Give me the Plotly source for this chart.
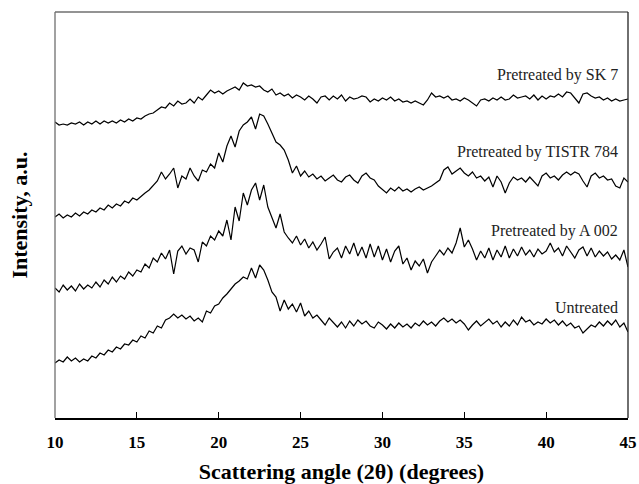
import plotly.graph_objects as go

# X-ray diffraction patterns, 2-theta from 10 to 45 degrees in 0.25 degree steps
angle_start = 10.0
angle_step = 0.25

series_names = ["Pretreated by SK 7", "Pretreated by TISTR 784", "Pretreated by A 002", "Untreated"]

sk7 = [
    296, 293, 294, 293, 295, 294, 296, 293, 296, 294,
    297, 294, 297, 295, 297, 295, 298, 296, 299, 297,
    300, 299, 302, 304, 305, 308, 311, 310, 315, 312,
    317, 314, 315, 319, 315, 321, 318, 323, 328, 325,
    327, 324, 327, 329, 331, 328, 335, 332, 333, 331,
    332, 328, 326, 329, 323, 325, 322, 324, 320, 323,
    321, 318, 322, 319, 315, 321, 322, 318, 322, 319,
    323, 317, 321, 319, 320, 322, 321, 316, 319, 317,
    320, 318, 321, 317, 319, 316, 317, 315, 317, 315,
    313, 318, 325, 321, 322, 320, 322, 318, 319, 317,
    320, 318, 315, 312, 318, 319, 317, 320, 318, 321,
    318, 319, 323, 320, 321, 322, 319, 323, 318, 322,
    319, 322, 321, 324, 321, 326, 325, 320, 315, 324,
    325, 322, 320, 321, 318, 320, 317, 319, 317, 318,
    319,
]

tistr784 = [
    201, 204, 200, 203, 201, 205, 202, 206, 204, 208,
    206, 210, 208, 213, 210, 214, 212, 217, 215, 220,
    218, 222, 225, 228, 232, 237, 246, 239, 244, 250,
    230, 242, 239, 250, 242, 237, 248, 246, 254, 250,
    265, 256, 272, 282, 271, 287, 293, 296, 301, 289,
    304, 302, 294, 285, 276, 273, 268, 258, 245, 252,
    242, 247, 241, 244, 239, 242, 237, 240, 243, 238,
    236, 241, 243, 238, 235, 242, 245, 240, 238, 232,
    228, 225, 230, 227, 231, 227, 229, 226, 229, 231,
    228, 230, 232, 235, 238, 248, 251, 244, 247, 250,
    245, 242, 246, 240, 242, 237, 241, 231, 242, 236,
    225, 235, 241, 238, 240, 236, 241, 237, 232, 242,
    245, 240, 242, 238, 243, 246, 243, 246, 244, 237,
    231, 242, 245, 240, 242, 238, 239, 232, 230, 240,
    236,
]

a002 = [
    130, 126, 133, 128, 132, 127, 134, 129, 133, 130,
    136, 131, 138, 134, 141, 136, 142, 139, 146, 142,
    148, 146, 154, 150, 160, 156, 165, 159, 168, 144,
    167, 172, 164, 170, 168, 156, 176, 172, 182, 178,
    187, 182, 198, 178, 211, 197, 225, 213, 228, 235,
    218, 233, 211, 200, 190, 204, 186, 180, 175, 182,
    173, 179, 170, 176, 168, 174, 181, 159, 166, 170,
    160, 172, 164, 175, 162, 171, 160, 174, 161, 172,
    158, 169, 156, 167, 172, 154, 160, 148, 157, 152,
    159, 145, 156, 162, 168, 163, 170, 165, 175, 190,
    171, 178, 169, 158, 167, 160, 170, 158, 168, 161,
    172, 160, 169, 162, 171, 163, 168, 161, 169, 164,
    167, 175, 166, 170, 162, 172, 166, 160, 168, 171,
    162, 170, 161, 167, 162, 166, 159, 163, 158, 168,
    151,
]

untreated = [
    55, 58, 56, 61, 57, 60, 56, 59, 57, 62,
    60, 65, 63, 68, 66, 71, 69, 74, 73, 78,
    76, 82, 80, 87, 85, 92, 90, 98, 100, 104,
    100, 103, 99, 102, 97, 100, 96, 107, 105, 112,
    114, 120, 124, 129, 134, 137, 141, 139, 150, 140,
    153, 148, 138, 126, 121, 107, 118, 109, 114, 106,
    115, 102, 107, 100, 103, 98, 93, 100, 96, 91,
    96, 90, 97, 92, 98, 94, 97, 92, 90, 96,
    93, 89, 94, 90, 95, 91, 94, 90, 95, 92,
    97, 93, 96, 92, 97, 100, 96, 99, 95, 98,
    94, 88, 93, 97, 92, 96, 99, 94, 97, 91,
    96, 92, 98, 93, 101, 96, 98, 93, 96, 94,
    99, 95, 98, 93, 97, 92, 95, 90, 92, 85,
    89, 93, 91, 96, 92, 97, 93, 98, 91, 95,
    86,
]

tick_values = [10, 15, 20, 25, 30, 35, 40, 45]
tick_labels = ["10", "15", "20", "25", "30", "35", "40", "45"]

all_series = [sk7, tistr784, a002, untreated]
label_heights = [343, 266, 187, 111]

serif = "Liberation Serif, Times New Roman, serif"

fig = go.Figure()
for name, vals in zip(series_names, all_series):
    xs = [angle_start + angle_step * i for i in range(len(vals))]
    fig.add_trace(go.Scatter(
        x=xs, y=vals, mode="lines", name=name,
        line=dict(color="black", width=1.2),
        showlegend=False, hoverinfo="skip",
    ))

for name, h in zip(series_names, label_heights):
    fig.add_annotation(
        x=44.5, y=h, xref="x", yref="y", text=name, showarrow=False,
        xanchor="right", yanchor="middle",
        font=dict(family=serif, size=16, color="#222"),
    )

fig.update_layout(
    width=639, height=484,
    margin=dict(l=55, r=11, t=12, b=66),
    paper_bgcolor="white", plot_bgcolor="white",
    xaxis=dict(
        range=[10, 45], tickmode="array", tickvals=tick_values, ticktext=tick_labels,
        ticks="inside", ticklen=6, tickwidth=1.2, tickcolor="black",
        ticklabelstandoff=8, automargin=False,
        showline=True, linecolor="black", linewidth=1.6,
        showgrid=False, zeroline=False,
        tickfont=dict(family=serif, size=17, color="black", weight="bold"),
        title=dict(text="Scattering angle (2θ) (degrees)", standoff=13,
                   font=dict(family=serif, size=22, color="black", weight="bold")),
    ),
    yaxis=dict(
        range=[0, 406], showticklabels=False, ticks="", automargin=False,
        showgrid=False, zeroline=False, showline=False,
        title=dict(text="Intensity, a.u.", standoff=20,
                   font=dict(family=serif, size=22, color="black", weight="bold")),
    ),
)

# frame: left and top gray, right dark
fig.add_shape(type="line", xref="paper", yref="paper", x0=0, x1=0, y0=0, y1=1,
              line=dict(color="#6f6f6f", width=1.3))
fig.add_shape(type="line", xref="paper", yref="paper", x0=0, x1=1, y0=1, y1=1,
              line=dict(color="#6f6f6f", width=1.3))
fig.add_shape(type="line", xref="paper", yref="paper", x0=1, x1=1, y0=0, y1=1,
              line=dict(color="#222", width=1.3))

# place the figure at the page origin (no default body margin)
fig.write_html(
    "out.html",
    config={"displayModeBar": False},
    post_script="document.body.style.margin='0';document.body.style.overflow='hidden';",
)
